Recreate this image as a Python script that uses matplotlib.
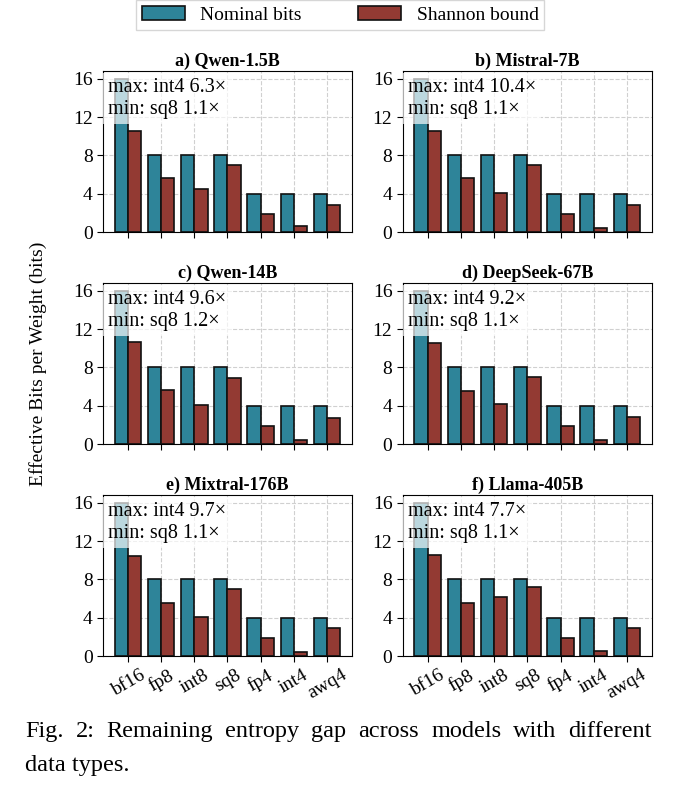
import matplotlib
matplotlib.use('Agg')
import matplotlib.pyplot as plt
from matplotlib.patches import Patch

# Données
types_donnees = ['bf16', 'fp8', 'int8', 'sq8', 'fp4', 'int4', 'awq4']
bits_nominaux = [16, 8, 8, 8, 4, 4, 4]

modeles = ['a) Qwen-1.5B', 'b) Mistral-7B', 'c) Qwen-14B',
           'd) DeepSeek-67B', 'e) Mixtral-176B', 'f) Llama-405B']

shannon_qwen_1_5b = [10.5, 5.6, 4.5, 7.0, 1.9, 0.63, 2.85]
shannon_mistral_7b = [10.5, 5.6, 4.1, 7.0, 1.9, 0.38, 2.85]
shannon_qwen_14b = [10.6, 5.6, 4.1, 6.85, 1.9, 0.42, 2.75]
shannon_deepseek_67b = [10.5, 5.5, 4.2, 7.0, 1.9, 0.43, 2.85]
shannon_mixtral_176b = [10.4, 5.5, 4.1, 7.0, 1.9, 0.41, 2.9]
shannon_llama_405b = [10.5, 5.5, 6.2, 7.2, 1.9, 0.52, 2.9]

shannon = [shannon_qwen_1_5b, shannon_mistral_7b, shannon_qwen_14b,
           shannon_deepseek_67b, shannon_mixtral_176b, shannon_llama_405b]

annotations = ['max: int4 6.3×\nmin: sq8 1.1×',
               'max: int4 10.4×\nmin: sq8 1.1×',
               'max: int4 9.6×\nmin: sq8 1.2×',
               'max: int4 9.2×\nmin: sq8 1.1×',
               'max: int4 9.7×\nmin: sq8 1.1×',
               'max: int4 7.7×\nmin: sq8 1.1×']

# Style
plt.rcParams['font.family'] = ['Liberation Serif', 'DejaVu Serif']
couleur_nominal = '#2e8499'
couleur_shannon = '#933a33'
largeur = 0.4

fig, axes = plt.subplots(3, 2, figsize=(6.74, 7.90), dpi=100)
fig.subplots_adjust(left=0.1528, right=0.967, top=0.910, bottom=0.1696,
                    wspace=0.205, hspace=0.317)

x = list(range(len(types_donnees)))
for i, ax in enumerate(axes.flat):
    ax.set_axisbelow(True)
    ax.grid(True, linestyle='--', color='#d0d0d0', linewidth=0.8)
    ax.bar([v - largeur / 2 for v in x], bits_nominaux, largeur,
           color=couleur_nominal, edgecolor='#111111', linewidth=1.2)
    ax.bar([v + largeur / 2 for v in x], shannon[i], largeur,
           color=couleur_shannon, edgecolor='#111111', linewidth=1.2)

    ax.set_xlim(-0.75, 6.75)
    ax.set_ylim(0, 16.8)
    ax.set_yticks([0, 4, 8, 12, 16])
    ax.tick_params(axis='both', labelsize=14, length=4)
    ax.set_xticks(x)
    if i >= 4:
        ax.set_xticklabels(types_donnees, rotation=30, ha='center')
    else:
        ax.set_xticklabels([])

    ax.set_title(modeles[i], fontsize=13, fontweight='bold', pad=4)
    ax.text(0.02, 0.955, annotations[i], transform=ax.transAxes,
            va='top', ha='left', fontsize=14.5, linespacing=1.2,
            bbox=dict(facecolor='white', edgecolor='none', alpha=0.68,
                      boxstyle='square,pad=0.25'))

# Étiquette commune de l'axe y
fig.text(0.057, 0.54, 'Effective Bits per Weight (bits)', rotation=90,
         va='center', ha='center', fontsize=14)

# Légende
poignees = [Patch(facecolor=couleur_nominal, edgecolor='#111111', linewidth=1.2),
            Patch(facecolor=couleur_shannon, edgecolor='#111111', linewidth=1.2)]
fig.legend(poignees, ['Nominal bits', 'Shannon bound'], loc='upper center',
           bbox_to_anchor=(0.505, 1.012), ncol=2, fontsize=14,
           columnspacing=2.9, handlelength=2.2, fancybox=False,
           edgecolor='#cccccc', borderpad=0.3)

# Légende de la figure (justifiée)
ligne_1 = 'Fig. 2: Remaining entropy gap across models with different'.split()
ligne_2 = 'data types.'
x_gauche, x_droite = 25 / 674, 652 / 674
y_1, y_2 = 1 - 737 / 790, 1 - 771 / 790
taille = 17.5

fig.canvas.draw()
rendu = fig.canvas.get_renderer()
mots = [fig.text(0, y_1, m, fontsize=taille, va='baseline') for m in ligne_1]
largeurs = [t.get_window_extent(rendu).width / fig.bbox.width for t in mots]
espace = (x_droite - x_gauche - sum(largeurs)) / (len(mots) - 1)
pos = x_gauche
for t, w in zip(mots, largeurs):
    t.set_x(pos)
    pos += w + espace
fig.text(x_gauche, y_2, ligne_2, fontsize=taille, va='baseline')

fig.savefig('out.png', dpi=100)
